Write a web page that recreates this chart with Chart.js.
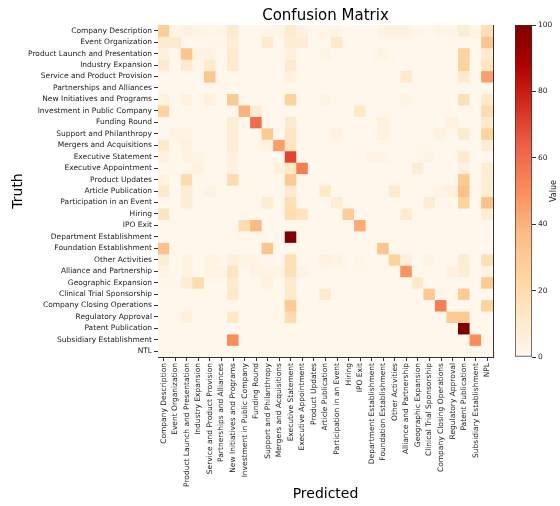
<!DOCTYPE html>
<html>
<head>
<meta charset="utf-8">
<script src="https://cdn.jsdelivr.net/npm/chart.js@4"></script>
<style>
  body { margin: 0; background: #fff; }
  #wrap { position: relative; width: 560px; height: 506px; }
  #wrap canvas { position: absolute; top: 0; }
  #matrixChart { left: 0; }
  #colorbar { left: 500px; }
</style>
</head>
<body>
<div id="wrap">
  <canvas id="matrixChart" width="560" height="506"></canvas>
  <canvas id="colorbar" width="60" height="506"></canvas>
</div>
<script>
// Truth rows (y axis) and predicted columns (x axis)
const truthLabels = [
  'Company Description', 'Event Organization', 'Product Launch and Presentation', 'Industry Expansion',
  'Service and Product Provision', 'Partnerships and Alliances', 'New Initiatives and Programs',
  'Investment in Public Company', 'Funding Round', 'Support and Philanthropy', 'Mergers and Acquisitions',
  'Executive Statement', 'Executive Appointment', 'Product Updates', 'Article Publication',
  'Participation in an Event', 'Hiring', 'IPO Exit', 'Department Establishment', 'Foundation Establishment',
  'Other Activities', 'Alliance and Partnership', 'Geographic Expansion', 'Clinical Trial Sponsorship',
  'Company Closing Operations', 'Regulatory Approval', 'Patent Publication', 'Subsidiary Establishment', 'NTL'
];
const predLabels = truthLabels.slice(0, -1).concat(['NPL']);

// row-normalised percentages, one row per truth label
const matrix = [
  [28, 2, 4, 3, 2, 2, 10, 0, 0, 2, 2, 10, 4, 0, 2, 2, 0, 0, 0, 4, 4, 4, 2, 0, 2, 2, 8, 2, 18],
  [10, 10, 0, 0, 0, 0, 8, 0, 0, 10, 0, 8, 8, 0, 0, 12, 0, 0, 0, 0, 0, 0, 0, 0, 0, 0, 0, 0, 33],
  [5, 0, 33, 4, 4, 0, 10, 0, 0, 0, 0, 5, 0, 0, 3, 0, 0, 0, 0, 3, 0, 0, 0, 0, 0, 0, 25, 0, 10],
  [10, 0, 10, 0, 10, 0, 10, 0, 0, 0, 0, 10, 0, 0, 0, 0, 0, 0, 0, 0, 0, 0, 0, 0, 0, 0, 25, 0, 15],
  [0, 0, 0, 0, 32, 0, 0, 0, 0, 0, 0, 5, 0, 0, 0, 0, 0, 0, 0, 0, 0, 12, 0, 0, 0, 0, 10, 0, 45],
  [0, 0, 0, 0, 0, 0, 0, 0, 0, 0, 0, 0, 0, 0, 0, 0, 0, 0, 0, 0, 0, 0, 0, 0, 0, 0, 0, 0, 0],
  [5, 0, 5, 0, 5, 0, 30, 0, 0, 0, 0, 25, 0, 0, 3, 0, 0, 0, 0, 0, 0, 3, 0, 0, 0, 0, 18, 0, 12],
  [25, 0, 0, 0, 0, 0, 0, 40, 8, 0, 0, 0, 0, 0, 0, 0, 0, 12, 0, 0, 0, 0, 0, 0, 0, 0, 0, 0, 20],
  [0, 0, 0, 0, 0, 0, 8, 0, 60, 0, 0, 10, 0, 0, 0, 0, 0, 0, 0, 5, 0, 0, 0, 0, 0, 5, 0, 0, 12],
  [0, 3, 3, 0, 0, 0, 8, 0, 0, 30, 0, 15, 0, 0, 0, 4, 0, 0, 0, 5, 0, 0, 0, 0, 4, 0, 10, 0, 25],
  [12, 0, 5, 0, 0, 0, 8, 0, 0, 4, 45, 15, 0, 0, 0, 0, 0, 0, 0, 0, 0, 0, 0, 0, 0, 0, 0, 0, 8],
  [4, 0, 3, 3, 0, 0, 5, 0, 0, 0, 0, 70, 0, 0, 0, 0, 0, 0, 3, 3, 0, 0, 0, 3, 0, 0, 10, 0, 0],
  [0, 0, 0, 5, 0, 0, 4, 0, 0, 0, 5, 12, 55, 0, 0, 0, 0, 0, 0, 0, 0, 0, 8, 0, 0, 0, 5, 0, 8],
  [5, 0, 20, 0, 0, 0, 20, 0, 0, 0, 0, 30, 0, 0, 0, 0, 0, 0, 0, 0, 0, 0, 0, 0, 0, 0, 30, 0, 8],
  [12, 0, 8, 0, 4, 0, 0, 0, 0, 0, 0, 10, 0, 0, 12, 0, 0, 0, 0, 0, 10, 0, 0, 0, 3, 5, 35, 0, 8],
  [0, 0, 8, 0, 0, 0, 0, 0, 0, 8, 0, 18, 0, 0, 0, 8, 0, 0, 0, 0, 0, 0, 0, 8, 0, 0, 25, 0, 35],
  [15, 0, 0, 0, 0, 0, 0, 0, 0, 0, 0, 20, 15, 0, 0, 0, 28, 0, 0, 0, 0, 10, 0, 0, 0, 0, 0, 0, 8],
  [0, 0, 0, 0, 0, 0, 0, 20, 38, 0, 0, 0, 0, 0, 0, 0, 0, 42, 0, 0, 0, 0, 0, 0, 0, 0, 0, 0, 0],
  [0, 0, 0, 0, 0, 0, 0, 0, 0, 0, 0, 100, 0, 0, 0, 0, 0, 0, 0, 0, 0, 0, 0, 0, 0, 0, 0, 0, 0],
  [34, 0, 0, 0, 0, 0, 0, 0, 0, 33, 0, 0, 0, 0, 0, 0, 0, 0, 0, 33, 0, 0, 0, 0, 0, 0, 0, 0, 0],
  [8, 0, 3, 0, 3, 0, 6, 3, 3, 0, 0, 18, 0, 0, 5, 3, 0, 2, 0, 0, 25, 5, 0, 3, 0, 0, 8, 0, 18],
  [3, 0, 3, 0, 3, 3, 15, 0, 3, 3, 3, 18, 3, 0, 0, 0, 0, 0, 0, 0, 0, 48, 0, 0, 0, 4, 8, 0, 4],
  [0, 0, 8, 20, 0, 0, 10, 0, 0, 5, 0, 10, 0, 0, 0, 0, 0, 0, 0, 0, 0, 0, 12, 0, 0, 0, 0, 0, 30],
  [0, 0, 0, 0, 0, 0, 12, 0, 0, 0, 0, 12, 0, 0, 10, 0, 0, 0, 0, 0, 0, 0, 0, 30, 0, 0, 30, 0, 0],
  [0, 0, 0, 0, 0, 0, 0, 0, 0, 0, 0, 30, 0, 0, 0, 0, 0, 0, 0, 0, 0, 0, 0, 0, 55, 0, 0, 0, 25],
  [0, 0, 6, 0, 0, 0, 12, 0, 0, 0, 0, 20, 0, 0, 0, 0, 0, 0, 0, 0, 0, 0, 0, 0, 0, 30, 30, 0, 0],
  [0, 0, 0, 0, 0, 0, 0, 0, 0, 0, 0, 0, 0, 0, 0, 0, 0, 0, 0, 0, 0, 0, 0, 0, 0, 0, 100, 0, 0],
  [0, 0, 0, 0, 0, 0, 50, 0, 0, 0, 0, 0, 0, 0, 0, 0, 0, 0, 0, 0, 0, 0, 0, 0, 0, 0, 0, 50, 0],
  [0, 0, 0, 0, 0, 0, 0, 0, 0, 0, 0, 0, 0, 0, 0, 0, 0, 0, 0, 0, 0, 0, 0, 0, 0, 0, 0, 0, 0]
];

const colorbarTicks = [0, 20, 40, 60, 80, 100];

// OrRd colour map stops
const orRd = [
  [255, 247, 236], [254, 232, 200], [253, 212, 158], [253, 187, 132], [252, 141, 89],
  [239, 101, 72], [215, 48, 31], [179, 0, 0], [127, 0, 0]
];

function heatColor(v) {
  const t = Math.max(0, Math.min(1, v / 100)) * 8;
  const i = Math.min(7, Math.floor(t));
  const f = t - i;
  const a = orRd[i], b = orRd[i + 1];
  const mix = k => Math.round(a[k] + (b[k] - a[k]) * f);
  return `rgb(${mix(0)}, ${mix(1)}, ${mix(2)})`;
}

Chart.defaults.font.family = '"DejaVu Sans", sans-serif';
Chart.defaults.color = '#222';

const tickFont = { size: 7.5 };
const spine = { display: true, color: '#333', width: 1 };

// one floating-bar dataset per truth row, all drawn on top of each other
const datasets = truthLabels.map((name, r) => ({
  label: name,
  data: predLabels.map(() => [r, r + 1]),
  backgroundColor: matrix[r].map(heatColor),
  grouped: false,
  barPercentage: 1,
  categoryPercentage: 1,
  borderWidth: 0,
  borderSkipped: false
}));

new Chart(document.getElementById('matrixChart'), {
  type: 'bar',
  data: { labels: predLabels, datasets },
  options: {
    responsive: false,
    animation: false,
    layout: { padding: { right: 67 } },
    plugins: {
      legend: { display: false },
      tooltip: { enabled: false },
      title: {
        display: true,
        text: 'Confusion Matrix',
        fullSize: false,
        color: '#000',
        font: { size: 15, weight: 'normal' },
        padding: { top: 7, bottom: 0 }
      }
    },
    scales: {
      x: {
        type: 'category',
        offset: true,
        afterFit: s => { s.height = 149; },
        ticks: { autoSkip: false, minRotation: 90, maxRotation: 90, font: tickFont, padding: 2 },
        grid: { offset: false, drawOnChartArea: false, tickLength: 4, color: '#333' },
        border: spine,
        title: { display: true, text: 'Predicted', color: '#000', font: { size: 14 }, padding: { top: 0, bottom: 3 } }
      },
      y: {
        type: 'linear',
        min: 0,
        max: truthLabels.length,
        reverse: true,
        afterBuildTicks: s => { s.ticks = truthLabels.map((_, i) => ({ value: i + 0.5 })); },
        afterFit: s => { s.width = 158; },
        ticks: { autoSkip: false, font: tickFont, padding: 2, callback: v => truthLabels[Math.floor(v)] },
        grid: { drawOnChartArea: false, tickLength: 4, color: '#333' },
        border: spine,
        title: { display: true, text: 'Truth', color: '#000', font: { size: 14 }, padding: { top: 10, bottom: 0 } }
      },
      xTop: {
        type: 'category',
        position: 'top',
        afterFit: s => { s.height = 0; },
        ticks: { display: false },
        grid: { display: false },
        border: spine
      },
      yRight: {
        type: 'linear',
        position: 'right',
        afterFit: s => { s.width = 0; },
        ticks: { display: false },
        grid: { display: false },
        border: spine
      }
    }
  }
});

// colour bar
const valueLabel = {
  id: 'valueLabel',
  afterDraw(chart) {
    const { ctx, chartArea } = chart;
    ctx.save();
    ctx.translate(54, (chartArea.top + chartArea.bottom) / 2);
    ctx.rotate(-Math.PI / 2);
    ctx.font = '8px "DejaVu Sans"';
    ctx.fillStyle = '#222';
    ctx.textAlign = 'center';
    ctx.textBaseline = 'middle';
    ctx.fillText('Value', 0, 0);
    ctx.restore();
  }
};

function barGradient(context) {
  const { chart } = context;
  const area = chart.chartArea;
  if (!area) return orRd[0];
  const g = chart.ctx.createLinearGradient(0, area.bottom, 0, area.top);
  orRd.forEach((c, i) => g.addColorStop(i / 8, `rgb(${c[0]}, ${c[1]}, ${c[2]})`));
  return g;
}

new Chart(document.getElementById('colorbar'), {
  type: 'bar',
  data: {
    labels: [''],
    datasets: [{
      data: [[colorbarTicks[0], colorbarTicks[colorbarTicks.length - 1]]],
      backgroundColor: barGradient,
      borderColor: '#333',
      borderWidth: 1,
      borderSkipped: false,
      barPercentage: 1,
      categoryPercentage: 1
    }]
  },
  options: {
    responsive: false,
    animation: false,
    layout: { padding: { left: 15, top: 25, bottom: 149, right: 0 } },
    plugins: { legend: { display: false }, tooltip: { enabled: false } },
    scales: {
      x: { display: false },
      y: {
        position: 'right',
        min: 0,
        max: 100,
        afterBuildTicks: s => { s.ticks = colorbarTicks.map(v => ({ value: v })); },
        afterFit: s => { s.width = 28; },
        ticks: { font: tickFont, padding: 2 },
        grid: { drawOnChartArea: false, tickLength: 4, color: '#333' },
        border: { display: false }
      }
    }
  },
  plugins: [valueLabel]
});
</script>
</body>
</html>
